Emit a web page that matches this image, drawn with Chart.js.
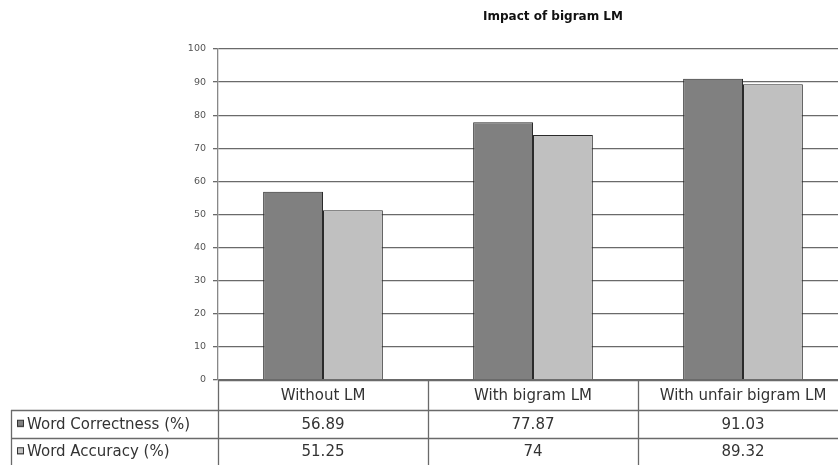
<!DOCTYPE html>
<html>
<head>
<meta charset="utf-8">
<script src="https://cdn.jsdelivr.net/npm/chart.js@4"></script>
<style>
  html, body { margin: 0; padding: 0; background: #fff; overflow: hidden; }
  #wrap { width: 838px; height: 465px; overflow: hidden; }
</style>
</head>
<body>
<div id="wrap"><canvas id="chart" width="848" height="465"></canvas></div>
<script>
// chart data
const chartTitle = "Impact of bigram LM";
const categories = ["Without LM", "With bigram LM", "With unfair bigram LM"];
const seriesNames = ["Word Correctness (%)", "Word Accuracy (%)"];
const correctness = [56.89, 77.87, 91.03];
const accuracy = [51.25, 74, 89.32];
const tableText = [["56.89", "77.87", "91.03"], ["51.25", "74", "89.32"]];

const colors = ["#808080", "#c0c0c0"];
const fontFamily = "'DejaVu Sans', Verdana, sans-serif";

// title + data table under the plot
const dataTable = {
    id: "dataTable",
    afterDraw(chart) {
        const ctx = chart.ctx;
        const area = chart.chartArea;
        const x = chart.scales.x;
        const headerBottom = area.bottom + 30;
        const rowH = 27.5;
        const tableLeft = 11;
        const right = chart.width;

        ctx.save();
        // title, sits a bit right of the plot centre like the original
        ctx.fillStyle = "#111";
        ctx.font = "bold 12px " + fontFamily;
        ctx.textAlign = "center";
        ctx.textBaseline = "middle";
        ctx.fillText(chartTitle, 553, 17);

        ctx.strokeStyle = "#6a6a6a";
        ctx.lineWidth = 1.3;

        // horizontal lines
        ctx.beginPath();
        ctx.moveTo(area.left, area.bottom + 0.5);
        ctx.lineTo(right, area.bottom + 0.5);
        for (let r = 0; r < 2; r++) {
            const y = Math.round(headerBottom + r * rowH) + 0.5;
            ctx.moveTo(tableLeft, y);
            ctx.lineTo(right, y);
        }
        ctx.stroke();

        // vertical lines
        ctx.beginPath();
        ctx.moveTo(tableLeft + 0.5, headerBottom);
        ctx.lineTo(tableLeft + 0.5, chart.height);
        const step = (area.right - area.left) / categories.length;
        for (let i = 0; i <= categories.length; i++) {
            const vx = Math.round(area.left + i * step) + 0.5;
            ctx.moveTo(vx, area.bottom);
            ctx.lineTo(vx, chart.height);
        }
        ctx.stroke();

        // legend keys + values
        ctx.lineWidth = 1;
        for (let r = 0; r < 2; r++) {
            const cy = headerBottom + r * rowH + rowH / 2;
            ctx.fillStyle = colors[r];
            ctx.fillRect(17, cy - 3.5, 7, 7);
            ctx.strokeStyle = "#333";
            ctx.strokeRect(17.5, cy - 3.5, 6, 6);
            ctx.fillStyle = "#333";
            ctx.font = "15px " + fontFamily;
            ctx.textAlign = "left";
            ctx.fillText(seriesNames[r], 27, cy + 1);
            ctx.textAlign = "center";
            for (let i = 0; i < categories.length; i++) {
                ctx.fillText(tableText[r][i], x.getPixelForValue(i), cy + 1);
            }
        }
        ctx.restore();
    }
};

const ctx = document.getElementById("chart").getContext("2d");
new Chart(ctx, {
    type: "bar",
    data: {
        labels: categories,
        datasets: [{
                label: seriesNames[0],
                data: correctness,
                backgroundColor: colors[0],
                borderColor: "#2a2a2a",
                borderWidth: 1
            },
            {
                label: seriesNames[1],
                data: accuracy,
                backgroundColor: colors[1],
                borderColor: "#2a2a2a",
                borderWidth: 1
            }
        ]
    },
    options: {
        responsive: false,
        animation: false,
        layout: { padding: { left: 0, right: 0, top: 49, bottom: 55 } },
        datasets: { bar: { barPercentage: 1.0, categoryPercentage: 0.57 } },
        plugins: {
            legend: { display: false },
            tooltip: { enabled: false },
            title: { display: false }
        },
        scales: {
            x: {
                grid: { display: false, drawTicks: false },
                border: { display: false },
                ticks: {
                    color: "#333",
                    padding: 7,
                    font: { family: fontFamily, size: 15 }
                },
                afterFit(scale) { scale.height = 30; }
            },
            y: {
                min: 0,
                max: 100,
                ticks: {
                    stepSize: 10,
                    color: "#555",
                    padding: 7,
                    font: { family: fontFamily, size: 9.5 }
                },
                grid: { color: "#6a6a6a", lineWidth: 1.3, tickLength: 5 },
                border: { color: "#888", width: 1.3 },
                afterFit(scale) { scale.width = 218; }
            }
        }
    },
    plugins: [dataTable]
});
</script>
</body>
</html>
